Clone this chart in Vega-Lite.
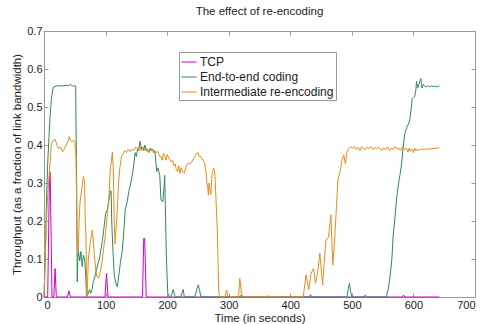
{
  "$schema": "https://vega.github.io/schema/vega-lite/v6.json",
  "width": 431,
  "height": 266,
  "autosize": {"type": "none"},
  "padding": {"left": 44, "top": 31, "right": 8, "bottom": 27},
  "title": {"text": "The effect of re-encoding", "fontSize": 11.5, "fontWeight": "normal", "font": "Liberation Sans", "color": "#222", "offset": 8},
  "config": {
    "view": {"stroke": "#999", "strokeWidth": 1},
    "axis": {"domainColor": "#999", "tickColor": "#999", "labelColor": "#222", "titleColor": "#222", "labelFont": "Liberation Sans", "titleFont": "Liberation Sans", "labelFontSize": 11, "titleFontSize": 11.5, "titleFontWeight": "normal", "grid": false, "tickSize": -4, "labelPadding": 6}
  },
  "datasets": {
    "d": [
      {"s":"TCP","t":0,"v":0},{"s":"TCP","t":6,"v":0},{"s":"TCP","t":9,"v":0.33},{"s":"TCP","t":10,"v":0.33},{"s":"TCP","t":13,"v":0},{"s":"TCP","t":16,"v":0},{"s":"TCP","t":18,"v":0.075},{"s":"TCP","t":20,"v":0},{"s":"TCP","t":38,"v":0},{"s":"TCP","t":40.5,"v":0.016},{"s":"TCP","t":43,"v":0},{"s":"TCP","t":99,"v":0},{"s":"TCP","t":101.5,"v":0.062},{"s":"TCP","t":104,"v":0},{"s":"TCP","t":160,"v":0},{"s":"TCP","t":162,"v":0.154},{"s":"TCP","t":163.5,"v":0.154},{"s":"TCP","t":166,"v":0},{"s":"TCP","t":520,"v":0},{"s":"TCP","t":522,"v":0.005},{"s":"TCP","t":524,"v":0},{"s":"TCP","t":582,"v":0},{"s":"TCP","t":584,"v":0.005},{"s":"TCP","t":586,"v":0},{"s":"TCP","t":642,"v":0},

      {"s":"End-to-end coding","t":0,"v":0},{"s":"End-to-end coding","t":2,"v":0.1},{"s":"End-to-end coding","t":4,"v":0.25},{"s":"End-to-end coding","t":6,"v":0.35},{"s":"End-to-end coding","t":8,"v":0.42},{"s":"End-to-end coding","t":10,"v":0.48},{"s":"End-to-end coding","t":12,"v":0.52},{"s":"End-to-end coding","t":14,"v":0.545},{"s":"End-to-end coding","t":16,"v":0.553},{"s":"End-to-end coding","t":20,"v":0.555},{"s":"End-to-end coding","t":25,"v":0.556},{"s":"End-to-end coding","t":30,"v":0.555},{"s":"End-to-end coding","t":35,"v":0.557},{"s":"End-to-end coding","t":40,"v":0.556},{"s":"End-to-end coding","t":43,"v":0.56},{"s":"End-to-end coding","t":46,"v":0.555},{"s":"End-to-end coding","t":50,"v":0.556},{"s":"End-to-end coding","t":51.5,"v":0.555},{"s":"End-to-end coding","t":52,"v":0.45},{"s":"End-to-end coding","t":53,"v":0.3},{"s":"End-to-end coding","t":54,"v":0.04},{"s":"End-to-end coding","t":55,"v":0.1},{"s":"End-to-end coding","t":56,"v":0.12},{"s":"End-to-end coding","t":58,"v":0.095},{"s":"End-to-end coding","t":60,"v":0.12},{"s":"End-to-end coding","t":62,"v":0.08},{"s":"End-to-end coding","t":64,"v":0.11},{"s":"End-to-end coding","t":66,"v":0.1},{"s":"End-to-end coding","t":68,"v":0.05},{"s":"End-to-end coding","t":69,"v":0},{"s":"End-to-end coding","t":72,"v":0.01},{"s":"End-to-end coding","t":74,"v":0.02},{"s":"End-to-end coding","t":76,"v":0.01},{"s":"End-to-end coding","t":78,"v":0.02},{"s":"End-to-end coding","t":80,"v":0.04},{"s":"End-to-end coding","t":82,"v":0.05},{"s":"End-to-end coding","t":85,"v":0.07},{"s":"End-to-end coding","t":88,"v":0.09},{"s":"End-to-end coding","t":90,"v":0.1},{"s":"End-to-end coding","t":93,"v":0.13},{"s":"End-to-end coding","t":95,"v":0.15},{"s":"End-to-end coding","t":98,"v":0.19},{"s":"End-to-end coding","t":100,"v":0.22},{"s":"End-to-end coding","t":103,"v":0.23},{"s":"End-to-end coding","t":106,"v":0.26},{"s":"End-to-end coding","t":108,"v":0.28},{"s":"End-to-end coding","t":109,"v":0.277},{"s":"End-to-end coding","t":110,"v":0.2},{"s":"End-to-end coding","t":112,"v":0.12},{"s":"End-to-end coding","t":114,"v":0.06},{"s":"End-to-end coding","t":116,"v":0.04},{"s":"End-to-end coding","t":119,"v":0.027},{"s":"End-to-end coding","t":121,"v":0.05},{"s":"End-to-end coding","t":124,"v":0.09},{"s":"End-to-end coding","t":127,"v":0.12},{"s":"End-to-end coding","t":130,"v":0.18},{"s":"End-to-end coding","t":132,"v":0.23},{"s":"End-to-end coding","t":135,"v":0.25},{"s":"End-to-end coding","t":138,"v":0.28},{"s":"End-to-end coding","t":141,"v":0.3},{"s":"End-to-end coding","t":143,"v":0.317},{"s":"End-to-end coding","t":146,"v":0.35},{"s":"End-to-end coding","t":148,"v":0.38},{"s":"End-to-end coding","t":150,"v":0.37},{"s":"End-to-end coding","t":152,"v":0.39},{"s":"End-to-end coding","t":154,"v":0.385},{"s":"End-to-end coding","t":156,"v":0.41},{"s":"End-to-end coding","t":158,"v":0.39},{"s":"End-to-end coding","t":160,"v":0.395},{"s":"End-to-end coding","t":162,"v":0.385},{"s":"End-to-end coding","t":164,"v":0.4},{"s":"End-to-end coding","t":166,"v":0.385},{"s":"End-to-end coding","t":168,"v":0.39},{"s":"End-to-end coding","t":170,"v":0.38},{"s":"End-to-end coding","t":172,"v":0.39},{"s":"End-to-end coding","t":174,"v":0.385},{"s":"End-to-end coding","t":176,"v":0.39},{"s":"End-to-end coding","t":178,"v":0.38},{"s":"End-to-end coding","t":180,"v":0.385},{"s":"End-to-end coding","t":182,"v":0.35},{"s":"End-to-end coding","t":183,"v":0.33},{"s":"End-to-end coding","t":185,"v":0.34},{"s":"End-to-end coding","t":188,"v":0.32},{"s":"End-to-end coding","t":190,"v":0.255},{"s":"End-to-end coding","t":193,"v":0.25},{"s":"End-to-end coding","t":195,"v":0.29},{"s":"End-to-end coding","t":196,"v":0.32},{"s":"End-to-end coding","t":197,"v":0.25},{"s":"End-to-end coding","t":198.6,"v":0.115},{"s":"End-to-end coding","t":200,"v":0.05},{"s":"End-to-end coding","t":201,"v":0.01},{"s":"End-to-end coding","t":204,"v":0},{"s":"End-to-end coding","t":207,"v":0.005},{"s":"End-to-end coding","t":210,"v":0.02},{"s":"End-to-end coding","t":212,"v":0.005},{"s":"End-to-end coding","t":215,"v":0},{"s":"End-to-end coding","t":222,"v":0},{"s":"End-to-end coding","t":226,"v":0.02},{"s":"End-to-end coding","t":228,"v":0},{"s":"End-to-end coding","t":245,"v":0},{"s":"End-to-end coding","t":248,"v":0.02},{"s":"End-to-end coding","t":250.6,"v":0.032},{"s":"End-to-end coding","t":253,"v":0.015},{"s":"End-to-end coding","t":255,"v":0},{"s":"End-to-end coding","t":318,"v":0},{"s":"End-to-end coding","t":320,"v":0.005},{"s":"End-to-end coding","t":322,"v":0},{"s":"End-to-end coding","t":431,"v":0},{"s":"End-to-end coding","t":433,"v":0.006},{"s":"End-to-end coding","t":435,"v":0},{"s":"End-to-end coding","t":492,"v":0},{"s":"End-to-end coding","t":494,"v":0.02},{"s":"End-to-end coding","t":496,"v":0.036},{"s":"End-to-end coding","t":498,"v":0.015},{"s":"End-to-end coding","t":500,"v":0},{"s":"End-to-end coding","t":556,"v":0},{"s":"End-to-end coding","t":559,"v":0.02},{"s":"End-to-end coding","t":562,"v":0.053},{"s":"End-to-end coding","t":565,"v":0.1},{"s":"End-to-end coding","t":567,"v":0.16},{"s":"End-to-end coding","t":570,"v":0.21},{"s":"End-to-end coding","t":573,"v":0.264},{"s":"End-to-end coding","t":576,"v":0.3},{"s":"End-to-end coding","t":578,"v":0.32},{"s":"End-to-end coding","t":581,"v":0.352},{"s":"End-to-end coding","t":583,"v":0.39},{"s":"End-to-end coding","t":586,"v":0.43},{"s":"End-to-end coding","t":588,"v":0.44},{"s":"End-to-end coding","t":590,"v":0.45},{"s":"End-to-end coding","t":592,"v":0.455},{"s":"End-to-end coding","t":594,"v":0.466},{"s":"End-to-end coding","t":596,"v":0.49},{"s":"End-to-end coding","t":598,"v":0.523},{"s":"End-to-end coding","t":600,"v":0.525},{"s":"End-to-end coding","t":602,"v":0.527},{"s":"End-to-end coding","t":604,"v":0.545},{"s":"End-to-end coding","t":605,"v":0.567},{"s":"End-to-end coding","t":607,"v":0.55},{"s":"End-to-end coding","t":609,"v":0.56},{"s":"End-to-end coding","t":611,"v":0.57},{"s":"End-to-end coding","t":612,"v":0.575},{"s":"End-to-end coding","t":613,"v":0.56},{"s":"End-to-end coding","t":614,"v":0.55},{"s":"End-to-end coding","t":616,"v":0.56},{"s":"End-to-end coding","t":618,"v":0.555},{"s":"End-to-end coding","t":620,"v":0.553},{"s":"End-to-end coding","t":623,"v":0.556},{"s":"End-to-end coding","t":626,"v":0.553},{"s":"End-to-end coding","t":629,"v":0.556},{"s":"End-to-end coding","t":632,"v":0.554},{"s":"End-to-end coding","t":635,"v":0.555},{"s":"End-to-end coding","t":638,"v":0.553},{"s":"End-to-end coding","t":642,"v":0.556},

      {"s":"Intermediate re-encoding","t":0,"v":0},{"s":"Intermediate re-encoding","t":2,"v":0.1},{"s":"Intermediate re-encoding","t":4,"v":0.2},{"s":"Intermediate re-encoding","t":6,"v":0.27},{"s":"Intermediate re-encoding","t":9,"v":0.33},{"s":"Intermediate re-encoding","t":12,"v":0.405},{"s":"Intermediate re-encoding","t":15,"v":0.412},{"s":"Intermediate re-encoding","t":18,"v":0.415},{"s":"Intermediate re-encoding","t":21,"v":0.4},{"s":"Intermediate re-encoding","t":24,"v":0.39},{"s":"Intermediate re-encoding","t":27,"v":0.395},{"s":"Intermediate re-encoding","t":30,"v":0.382},{"s":"Intermediate re-encoding","t":33,"v":0.39},{"s":"Intermediate re-encoding","t":36,"v":0.4},{"s":"Intermediate re-encoding","t":39,"v":0.41},{"s":"Intermediate re-encoding","t":41,"v":0.422},{"s":"Intermediate re-encoding","t":43,"v":0.412},{"s":"Intermediate re-encoding","t":45,"v":0.408},{"s":"Intermediate re-encoding","t":48,"v":0.413},{"s":"Intermediate re-encoding","t":50,"v":0.41},{"s":"Intermediate re-encoding","t":52,"v":0.37},{"s":"Intermediate re-encoding","t":53,"v":0.25},{"s":"Intermediate re-encoding","t":54,"v":0.14},{"s":"Intermediate re-encoding","t":55.6,"v":0.12},{"s":"Intermediate re-encoding","t":57,"v":0.2},{"s":"Intermediate re-encoding","t":58.5,"v":0.25},{"s":"Intermediate re-encoding","t":61,"v":0.28},{"s":"Intermediate re-encoding","t":63.9,"v":0.317},{"s":"Intermediate re-encoding","t":66,"v":0.3},{"s":"Intermediate re-encoding","t":67,"v":0.2},{"s":"Intermediate re-encoding","t":68.2,"v":0.159},{"s":"Intermediate re-encoding","t":69,"v":0.06},{"s":"Intermediate re-encoding","t":70,"v":0},{"s":"Intermediate re-encoding","t":71,"v":0.05},{"s":"Intermediate re-encoding","t":72,"v":0.1},{"s":"Intermediate re-encoding","t":74.6,"v":0.135},{"s":"Intermediate re-encoding","t":78.5,"v":0.176},{"s":"Intermediate re-encoding","t":80,"v":0.15},{"s":"Intermediate re-encoding","t":81.6,"v":0.115},{"s":"Intermediate re-encoding","t":84,"v":0.07},{"s":"Intermediate re-encoding","t":86,"v":0.053},{"s":"Intermediate re-encoding","t":89,"v":0.05},{"s":"Intermediate re-encoding","t":92,"v":0.07},{"s":"Intermediate re-encoding","t":94.7,"v":0.097},{"s":"Intermediate re-encoding","t":97,"v":0.13},{"s":"Intermediate re-encoding","t":100,"v":0.168},{"s":"Intermediate re-encoding","t":103,"v":0.22},{"s":"Intermediate re-encoding","t":105.9,"v":0.273},{"s":"Intermediate re-encoding","t":107.5,"v":0.334},{"s":"Intermediate re-encoding","t":109.7,"v":0.36},{"s":"Intermediate re-encoding","t":111,"v":0.382},{"s":"Intermediate re-encoding","t":112.5,"v":0.34},{"s":"Intermediate re-encoding","t":114,"v":0.2},{"s":"Intermediate re-encoding","t":115.3,"v":0.14},{"s":"Intermediate re-encoding","t":118,"v":0.2},{"s":"Intermediate re-encoding","t":121,"v":0.3},{"s":"Intermediate re-encoding","t":123.4,"v":0.343},{"s":"Intermediate re-encoding","t":126,"v":0.37},{"s":"Intermediate re-encoding","t":128,"v":0.375},{"s":"Intermediate re-encoding","t":131,"v":0.385},{"s":"Intermediate re-encoding","t":134,"v":0.38},{"s":"Intermediate re-encoding","t":137,"v":0.388},{"s":"Intermediate re-encoding","t":140,"v":0.382},{"s":"Intermediate re-encoding","t":143,"v":0.39},{"s":"Intermediate re-encoding","t":146,"v":0.385},{"s":"Intermediate re-encoding","t":149,"v":0.395},{"s":"Intermediate re-encoding","t":152,"v":0.39},{"s":"Intermediate re-encoding","t":155,"v":0.398},{"s":"Intermediate re-encoding","t":158,"v":0.385},{"s":"Intermediate re-encoding","t":161,"v":0.395},{"s":"Intermediate re-encoding","t":164,"v":0.388},{"s":"Intermediate re-encoding","t":167,"v":0.39},{"s":"Intermediate re-encoding","t":170,"v":0.38},{"s":"Intermediate re-encoding","t":173,"v":0.392},{"s":"Intermediate re-encoding","t":176,"v":0.388},{"s":"Intermediate re-encoding","t":179,"v":0.385},{"s":"Intermediate re-encoding","t":182,"v":0.38},{"s":"Intermediate re-encoding","t":185,"v":0.383},{"s":"Intermediate re-encoding","t":188,"v":0.37},{"s":"Intermediate re-encoding","t":190,"v":0.37},{"s":"Intermediate re-encoding","t":192,"v":0.36},{"s":"Intermediate re-encoding","t":194,"v":0.378},{"s":"Intermediate re-encoding","t":196,"v":0.372},{"s":"Intermediate re-encoding","t":198,"v":0.36},{"s":"Intermediate re-encoding","t":200,"v":0.375},{"s":"Intermediate re-encoding","t":203,"v":0.365},{"s":"Intermediate re-encoding","t":206,"v":0.356},{"s":"Intermediate re-encoding","t":209,"v":0.36},{"s":"Intermediate re-encoding","t":211,"v":0.345},{"s":"Intermediate re-encoding","t":213,"v":0.35},{"s":"Intermediate re-encoding","t":215,"v":0.335},{"s":"Intermediate re-encoding","t":217,"v":0.33},{"s":"Intermediate re-encoding","t":219,"v":0.345},{"s":"Intermediate re-encoding","t":221,"v":0.325},{"s":"Intermediate re-encoding","t":223,"v":0.34},{"s":"Intermediate re-encoding","t":225,"v":0.33},{"s":"Intermediate re-encoding","t":228,"v":0.326},{"s":"Intermediate re-encoding","t":231,"v":0.345},{"s":"Intermediate re-encoding","t":234,"v":0.352},{"s":"Intermediate re-encoding","t":237,"v":0.35},{"s":"Intermediate re-encoding","t":240,"v":0.356},{"s":"Intermediate re-encoding","t":243,"v":0.365},{"s":"Intermediate re-encoding","t":246,"v":0.372},{"s":"Intermediate re-encoding","t":248,"v":0.378},{"s":"Intermediate re-encoding","t":250,"v":0.38},{"s":"Intermediate re-encoding","t":252,"v":0.37},{"s":"Intermediate re-encoding","t":255,"v":0.37},{"s":"Intermediate re-encoding","t":258,"v":0.36},{"s":"Intermediate re-encoding","t":261,"v":0.352},{"s":"Intermediate re-encoding","t":263,"v":0.33},{"s":"Intermediate re-encoding","t":264.6,"v":0.3},{"s":"Intermediate re-encoding","t":266,"v":0.29},{"s":"Intermediate re-encoding","t":267,"v":0.268},{"s":"Intermediate re-encoding","t":268,"v":0.3},{"s":"Intermediate re-encoding","t":269,"v":0.29},{"s":"Intermediate re-encoding","t":270.8,"v":0.27},{"s":"Intermediate re-encoding","t":272,"v":0.3},{"s":"Intermediate re-encoding","t":273,"v":0.326},{"s":"Intermediate re-encoding","t":275.6,"v":0.339},{"s":"Intermediate re-encoding","t":277,"v":0.33},{"s":"Intermediate re-encoding","t":278,"v":0.31},{"s":"Intermediate re-encoding","t":279.5,"v":0.25},{"s":"Intermediate re-encoding","t":281.5,"v":0.176},{"s":"Intermediate re-encoding","t":283,"v":0.07},{"s":"Intermediate re-encoding","t":284,"v":0.01},{"s":"Intermediate re-encoding","t":286,"v":0},{"s":"Intermediate re-encoding","t":294,"v":0},{"s":"Intermediate re-encoding","t":296.7,"v":0.018},{"s":"Intermediate re-encoding","t":298,"v":0.005},{"s":"Intermediate re-encoding","t":300,"v":0},{"s":"Intermediate re-encoding","t":316,"v":0},{"s":"Intermediate re-encoding","t":318,"v":0.049},{"s":"Intermediate re-encoding","t":320,"v":0.02},{"s":"Intermediate re-encoding","t":322,"v":0},{"s":"Intermediate re-encoding","t":362,"v":0},{"s":"Intermediate re-encoding","t":364,"v":0.004},{"s":"Intermediate re-encoding","t":366,"v":0},{"s":"Intermediate re-encoding","t":421,"v":0},{"s":"Intermediate re-encoding","t":425.5,"v":0.058},{"s":"Intermediate re-encoding","t":430,"v":0.02},{"s":"Intermediate re-encoding","t":433.7,"v":0.062},{"s":"Intermediate re-encoding","t":437.8,"v":0.075},{"s":"Intermediate re-encoding","t":441,"v":0.036},{"s":"Intermediate re-encoding","t":444,"v":0.06},{"s":"Intermediate re-encoding","t":448,"v":0.115},{"s":"Intermediate re-encoding","t":452.6,"v":0.032},{"s":"Intermediate re-encoding","t":455,"v":0.09},{"s":"Intermediate re-encoding","t":458,"v":0.15},{"s":"Intermediate re-encoding","t":462,"v":0.157},{"s":"Intermediate re-encoding","t":466,"v":0.216},{"s":"Intermediate re-encoding","t":469,"v":0.084},{"s":"Intermediate re-encoding","t":472,"v":0.15},{"s":"Intermediate re-encoding","t":475,"v":0.238},{"s":"Intermediate re-encoding","t":477.4,"v":0.308},{"s":"Intermediate re-encoding","t":481.4,"v":0.334},{"s":"Intermediate re-encoding","t":484,"v":0.36},{"s":"Intermediate re-encoding","t":486.8,"v":0.374},{"s":"Intermediate re-encoding","t":489.5,"v":0.35},{"s":"Intermediate re-encoding","t":492,"v":0.382},{"s":"Intermediate re-encoding","t":495,"v":0.39},{"s":"Intermediate re-encoding","t":498,"v":0.395},{"s":"Intermediate re-encoding","t":501,"v":0.392},{"s":"Intermediate re-encoding","t":504,"v":0.396},{"s":"Intermediate re-encoding","t":507,"v":0.388},{"s":"Intermediate re-encoding","t":510,"v":0.394},{"s":"Intermediate re-encoding","t":513,"v":0.385},{"s":"Intermediate re-encoding","t":516,"v":0.396},{"s":"Intermediate re-encoding","t":519,"v":0.39},{"s":"Intermediate re-encoding","t":522,"v":0.388},{"s":"Intermediate re-encoding","t":525,"v":0.395},{"s":"Intermediate re-encoding","t":528,"v":0.39},{"s":"Intermediate re-encoding","t":531,"v":0.396},{"s":"Intermediate re-encoding","t":534,"v":0.388},{"s":"Intermediate re-encoding","t":537,"v":0.393},{"s":"Intermediate re-encoding","t":540,"v":0.39},{"s":"Intermediate re-encoding","t":543,"v":0.394},{"s":"Intermediate re-encoding","t":546,"v":0.39},{"s":"Intermediate re-encoding","t":549,"v":0.386},{"s":"Intermediate re-encoding","t":552,"v":0.392},{"s":"Intermediate re-encoding","t":555,"v":0.388},{"s":"Intermediate re-encoding","t":558,"v":0.395},{"s":"Intermediate re-encoding","t":561,"v":0.385},{"s":"Intermediate re-encoding","t":564,"v":0.392},{"s":"Intermediate re-encoding","t":567,"v":0.388},{"s":"Intermediate re-encoding","t":570,"v":0.396},{"s":"Intermediate re-encoding","t":573,"v":0.39},{"s":"Intermediate re-encoding","t":576,"v":0.392},{"s":"Intermediate re-encoding","t":579,"v":0.385},{"s":"Intermediate re-encoding","t":582,"v":0.395},{"s":"Intermediate re-encoding","t":585,"v":0.388},{"s":"Intermediate re-encoding","t":588,"v":0.392},{"s":"Intermediate re-encoding","t":591,"v":0.381},{"s":"Intermediate re-encoding","t":593,"v":0.392},{"s":"Intermediate re-encoding","t":595,"v":0.383},{"s":"Intermediate re-encoding","t":597,"v":0.39},{"s":"Intermediate re-encoding","t":600,"v":0.38},{"s":"Intermediate re-encoding","t":602,"v":0.392},{"s":"Intermediate re-encoding","t":604,"v":0.384},{"s":"Intermediate re-encoding","t":606,"v":0.389},{"s":"Intermediate re-encoding","t":609,"v":0.385},{"s":"Intermediate re-encoding","t":612,"v":0.39},{"s":"Intermediate re-encoding","t":616,"v":0.388},{"s":"Intermediate re-encoding","t":620,"v":0.389},{"s":"Intermediate re-encoding","t":624,"v":0.39},{"s":"Intermediate re-encoding","t":630,"v":0.39},{"s":"Intermediate re-encoding","t":636,"v":0.391},{"s":"Intermediate re-encoding","t":642,"v":0.393}
    ]
  },
  "data": {"name": "d"},
  "layer": [
    {
      "mark": {"type": "line", "strokeWidth": 1},
      "encoding": {
        "x": {"field": "t", "type": "quantitative", "scale": {"domain": [0, 700], "nice": false}, "axis": {"orient": "bottom", "values": [0,100,200,300,400,500,600,700], "title": "Time (in seconds)", "titlePadding": 2}},
        "y": {"field": "v", "type": "quantitative", "scale": {"domain": [0, 0.7], "nice": false}, "axis": {"orient": "left", "values": [0,0.1,0.2,0.3,0.4,0.5,0.6,0.7], "format": ".1~f", "title": "Throughput (as a fraction of link bandwidth)", "titlePadding": 4}},
        "color": {"field": "s", "type": "nominal", "scale": {"domain": ["TCP", "End-to-end coding", "Intermediate re-encoding"], "range": ["#cc00cc", "#2e8b57", "#e88c1a"]},
          "legend": {"orient": "none", "legendX": 135, "legendY": 21, "title": null, "symbolType": "stroke", "symbolSize": 225, "symbolStrokeWidth": 1, "labelFont": "Liberation Sans", "labelFontSize": 12, "labelColor": "#222", "labelOffset": 3, "padding": 2, "rowPadding": 1, "strokeColor": "#999", "fillColor": "white"}}
      }
    },
    {
      "mark": {"type": "point", "opacity": 0, "size": 0},
      "encoding": {
        "x": {"field": "t", "type": "quantitative", "axis": {"orient": "top", "values": [0,100,200,300,400,500,600,700], "labels": false, "title": null, "domain": false}},
        "y": {"field": "v", "type": "quantitative", "axis": {"orient": "right", "values": [0,0.1,0.2,0.3,0.4,0.5,0.6,0.7], "labels": false, "title": null, "domain": false}}
      }
    }
  ]
}
